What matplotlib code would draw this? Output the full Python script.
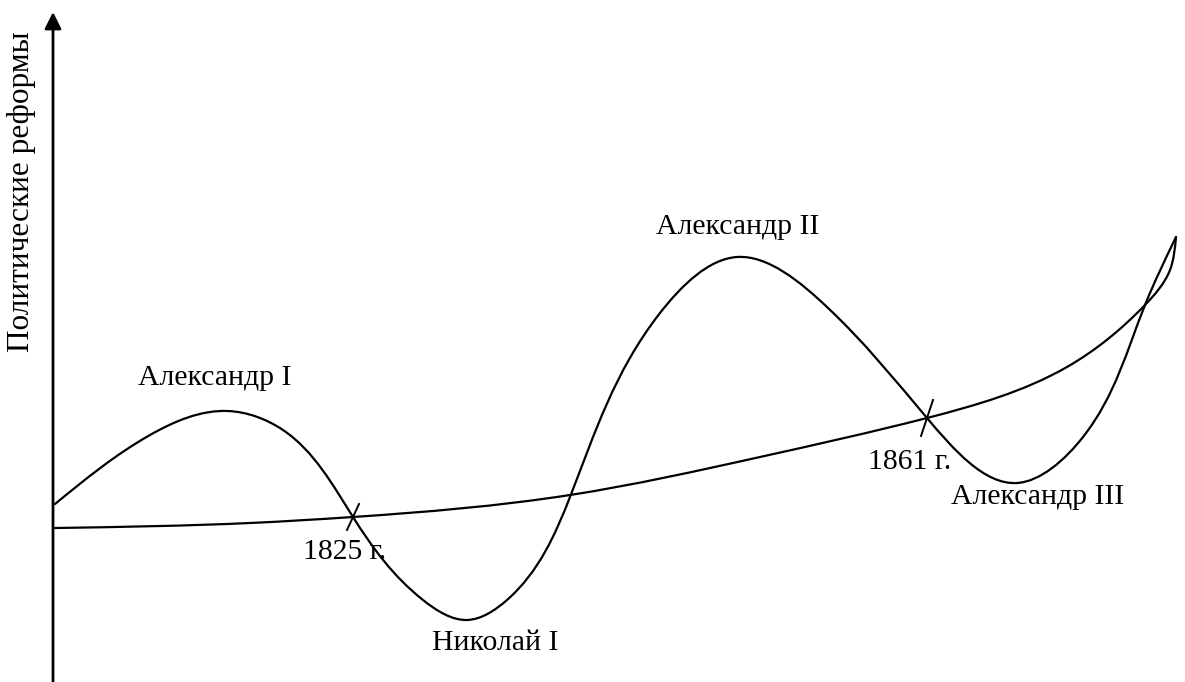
import numpy as np
import matplotlib
matplotlib.use("Agg")
import matplotlib.pyplot as plt
from matplotlib.path import Path
from matplotlib.patches import PathPatch

plt.rcParams['font.family'] = ['Liberation Serif', 'DejaVu Serif']

# Wavy curve: political reforms by reign (x = time position, y = reform level)
wave_x = [55, 150, 228, 283, 353, 423, 467, 507, 570, 660, 737, 827, 927,
          1017, 1083, 1145, 1176]
wave_y = [178, 247, 271, 252, 165, 82, 62, 82, 185, 369, 425, 375, 264,
          199, 245, 377, 445]

# Smooth rising trend curve
trend_x = [55, 250, 353, 570, 760, 927, 1067, 1145, 1170, 1176]
trend_y = [154, 159, 165, 187, 225, 264, 315, 377, 412, 445]

# Crossing marks (year labels)
mark_x = [353, 927]
mark_y = [165, 264]
mark_labels = ["1825 г.", "1861 г."]

# Reign labels
reign_labels = ["Александр I", "Николай I", "Александр II", "Александр III"]
reign_x = [215, 495, 738, 1038]
reign_y = [304, 39, 455, 185]

ylabel = "Политические реформы"


def spline_derivs(t, y):
    n = len(t)
    h = np.diff(t)
    A = np.zeros((n, n))
    r = np.zeros(n)
    A[0, 0] = A[-1, -1] = 1.0
    for i in range(1, n - 1):
        A[i, i - 1] = h[i - 1]
        A[i, i] = 2 * (h[i - 1] + h[i])
        A[i, i + 1] = h[i]
        r[i] = 6 * ((y[i + 1] - y[i]) / h[i] - (y[i] - y[i - 1]) / h[i - 1])
    M = np.linalg.solve(A, r)
    d0 = (y[1:] - y[:-1]) / h - h * (2 * M[:-1] + M[1:]) / 6
    d1 = (y[1:] - y[:-1]) / h + h * (M[:-1] + 2 * M[1:]) / 6
    return d0, d1


def smooth_path(xs, ys):
    p = np.column_stack([xs, ys]).astype(float)
    t = np.concatenate([[0], np.cumsum(np.hypot(*np.diff(p, axis=0).T))])
    h = np.diff(t)
    dx0, dx1 = spline_derivs(t, p[:, 0])
    dy0, dy1 = spline_derivs(t, p[:, 1])
    verts = [p[0]]
    codes = [Path.MOVETO]
    for i in range(len(p) - 1):
        c1 = p[i] + np.array([dx0[i], dy0[i]]) * h[i] / 3
        c2 = p[i + 1] - np.array([dx1[i], dy1[i]]) * h[i] / 3
        verts += [c1, c2, p[i + 1]]
        codes += [Path.CURVE4] * 3
    return Path(verts, codes)


fig = plt.figure(figsize=(11.85, 6.82), dpi=100)
ax = fig.add_axes([0, 0, 1, 1])
ax.set_xlim(0, 1185)
ax.set_ylim(0, 682)
ax.axis('off')

# vertical axis with arrow
ax.annotate('', xy=(53, 670), xytext=(53, -5),
            arrowprops=dict(arrowstyle='-|>', lw=2.0, color='black',
                            mutation_scale=25, shrinkA=0, shrinkB=0))

ax.add_patch(PathPatch(smooth_path(wave_x, wave_y), fill=False,
                       lw=1.6, edgecolor='black', capstyle='round'))
ax.add_patch(PathPatch(smooth_path(trend_x, trend_y), fill=False,
                       lw=1.6, edgecolor='black', capstyle='round'))

# tick marks at crossings
tick_half = [(6, 13), (6, 18)]
for (mx, my), (dx, dy) in zip(zip(mark_x, mark_y), tick_half):
    ax.plot([mx - dx, mx + dx], [my - dy, my + dy], color='black', lw=1.4)

ax.text(345, 130, mark_labels[0], fontsize=21.4, ha='center', va='center')
ax.text(910, 220, mark_labels[1], fontsize=21.4, ha='center', va='center')

for lab, x, y in zip(reign_labels, reign_x, reign_y):
    ax.text(x, y, lab, fontsize=21.4, ha='center', va='center')

ax.text(22, 490, ylabel, fontsize=22.5, rotation=90, ha='center', va='center')

fig.savefig('out.png', dpi=100)
